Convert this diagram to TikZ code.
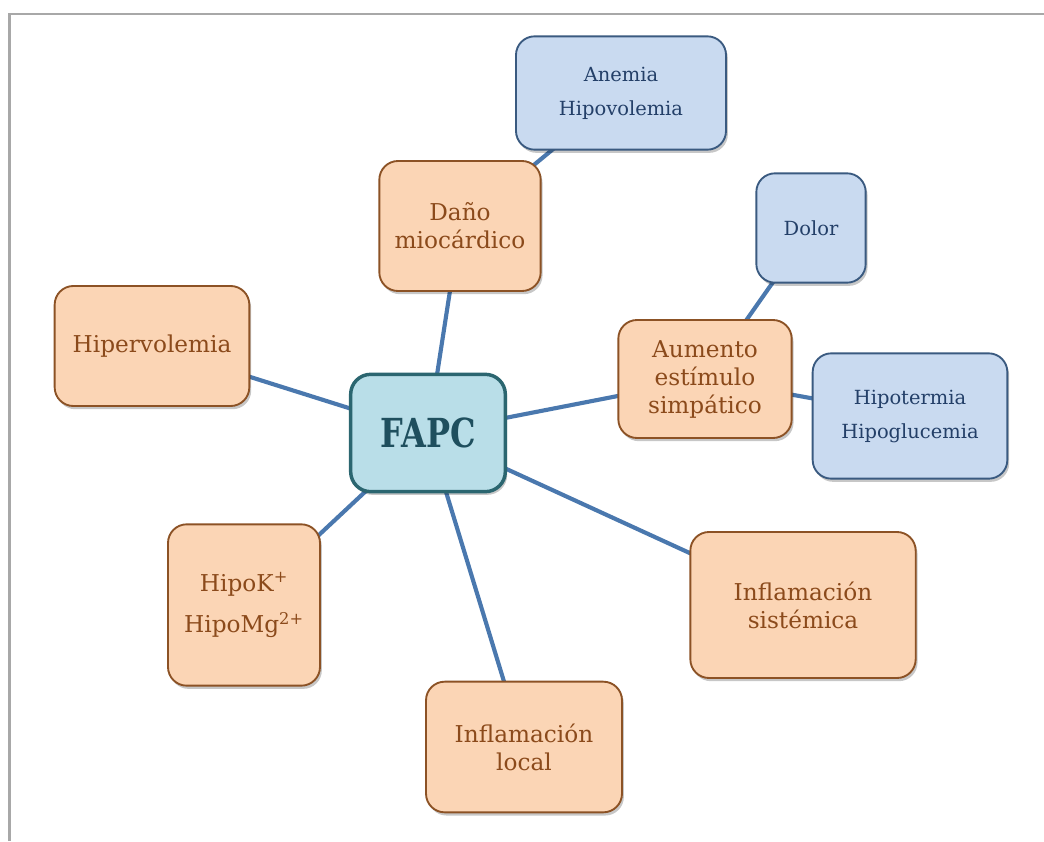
\documentclass[tikz,border=0pt]{standalone}
\usepackage{fontspec}
\setmainfont{DejaVu Serif}
\newfontfamily\headfont[FakeStretch=0.8]{DejaVu Serif}
\usetikzlibrary{shadows}
\pgfdeclarelayer{background}
\pgfsetlayers{background,main}

\definecolor{orfill}{HTML}{FBD5B5}
\definecolor{ordraw}{HTML}{8C5225}
\definecolor{ortext}{HTML}{8B4A1B}
\definecolor{blfill}{HTML}{C9DAF0}
\definecolor{bldraw}{HTML}{3A5A80}
\definecolor{bltext}{HTML}{233F68}
\definecolor{hubfill}{HTML}{B9DEE8}
\definecolor{hubdraw}{HTML}{2B6670}
\definecolor{hubtext}{HTML}{1F4F5E}
\definecolor{linkc}{HTML}{4A78AE}
\definecolor{framec}{HTML}{A8A8A8}

\tikzset{
  box/.style={rounded corners=14pt, line width=1.4pt, inner sep=0pt, align=center,
    drop shadow={shadow xshift=1.4pt, shadow yshift=-2.4pt, opacity=0.22, fill=black}},
  orangebox/.style={box, fill=orfill, draw=ordraw, text=ortext,
    font=\fontsize{17.4}{21}\selectfont},
  bluebox/.style={box, fill=blfill, draw=bldraw, text=bltext,
    font=\fontsize{14.6}{25.5}\selectfont},
  hubbox/.style={box, rounded corners=15pt, line width=2.6pt, fill=hubfill, draw=hubdraw,
    text=hubtext, font=\headfont\bfseries\fontsize{30}{34}\selectfont},
  link/.style={line width=3.1pt, draw=linkc},
  framepen/.style={line width=1.8pt, draw=framec}
}

\begin{document}
\begin{tikzpicture}[x=0.75pt, y=-0.75pt]
  \useasboundingbox (0,0) rectangle (1044,841);

  % page frame
  \draw[framepen] (9.5,841) -- (9.5,14) -- (1044,14);

  % central node
  \node[hubbox, minimum width=116pt, minimum height=88pt] (fapc) at (428,433) {FAPC};

  % causes
  \node[orangebox, minimum width=121pt, minimum height=97.5pt] (dano) at (460,226)
    {Daño\\miocárdico};
  \node[orangebox, minimum width=146pt, minimum height=90pt] (hiperv) at (152,346)
    {Hipervolemia};
  \node[orangebox, minimum width=130pt, minimum height=88.5pt] (simp) at (705,379)
    {Aumento\\estímulo\\simpático};
  \node[orangebox, minimum width=114pt, minimum height=121pt] (iones) at (244,605)
    {HipoK\textsuperscript{+}\\[10pt]HipoMg\textsuperscript{2+}};
  \node[orangebox, minimum width=169pt, minimum height=109.5pt] (sist) at (803,605)
    {Inflamación\\sistémica};
  \node[orangebox, minimum width=147pt, minimum height=98pt] (local) at (524,747)
    {Inflamación\\local};

  % triggers
  \node[bluebox, minimum width=157.5pt, minimum height=85pt] (anemia) at (621,93)
    {Anemia\\Hipovolemia};
  \node[bluebox, minimum width=82pt, minimum height=82pt] (dolor) at (811,228)
    {Dolor};
  \node[bluebox, minimum width=146pt, minimum height=94pt] (hipot) at (910,416)
    {Hipotermia\\Hipoglucemia};

  % connectors, behind the boxes
  \begin{pgfonlayer}{background}
    \draw[link] (fapc.center) -- (hiperv.center);
    \draw[link] (fapc.center) -- (dano.center);
    \draw[link] (dano.center) -- (anemia.center);
    \draw[link] (fapc.center) -- (simp.center);
    \draw[link] (simp.center) -- (dolor.center);
    \draw[link] (simp.center) -- (hipot.center);
    \draw[link] (fapc.center) -- (iones.center);
    \draw[link] (fapc.center) -- (local.center);
    \draw[link] (fapc.center) -- (sist.center);
  \end{pgfonlayer}
\end{tikzpicture}
\end{document}
